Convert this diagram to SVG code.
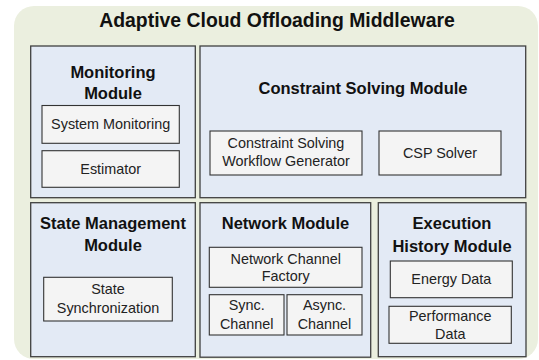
<svg xmlns="http://www.w3.org/2000/svg" width="539" height="360" viewBox="0 0 539 360">
<style>
text{font-family:"Liberation Sans",Arial,sans-serif;fill:#111;text-anchor:middle}
.t{font-size:19.4px;font-weight:bold}
.h{font-size:16.5px;font-weight:bold}
.l{font-size:14.4px;fill:#222}
.mod{fill:#E3EAF5;stroke:#404040;stroke-width:1.3}
.box{fill:#F4F4F4;stroke:#333;stroke-width:1.1}
</style>
<rect x="0" y="0" width="539" height="360" fill="#ffffff"/>
<g id="middleware">
<rect x="14" y="6" width="524" height="353" rx="20" ry="20" fill="#EBEFDF"/>
<text class="t" x="277" y="27">Adaptive Cloud Offloading Middleware</text>
</g>
<g id="monitoring-module">
<rect class="mod" x="30.7" y="46" width="164.6" height="151.7"/>
<text class="h" x="113" y="78">Monitoring</text>
<text class="h" x="113" y="99">Module</text>
</g>
<g id="system-monitoring">
<rect class="box" x="42" y="105.5" width="137.3" height="37.8"/>
<text class="l" x="110.7" y="129">System Monitoring</text>
</g>
<g id="estimator">
<rect class="box" x="42" y="150.7" width="137.3" height="36.6"/>
<text class="l" x="110.7" y="174">Estimator</text>
</g>
<g id="constraint-solving-module">
<rect class="mod" x="200" y="46" width="325.7" height="151.7"/>
<text class="h" x="363" y="94">Constraint Solving Module</text>
</g>
<g id="workflow-generator">
<rect class="box" x="210" y="131" width="152" height="44"/>
<text class="l" x="286" y="147.5">Constraint Solving</text>
<text class="l" x="286" y="166">Workflow Generator</text>
</g>
<g id="csp-solver">
<rect class="box" x="379" y="131" width="122" height="44"/>
<text class="l" x="440" y="158">CSP Solver</text>
</g>
<g id="state-management-module">
<rect class="mod" x="30.7" y="202.7" width="164.6" height="154"/>
<text class="h" x="113" y="229">State Management</text>
<text class="h" x="113" y="251">Module</text>
</g>
<g id="state-synchronization">
<rect class="box" x="43.7" y="277.3" width="128.6" height="43.7"/>
<text class="l" x="108" y="294">State</text>
<text class="l" x="108" y="313">Synchronization</text>
</g>
<g id="network-module">
<rect class="mod" x="200" y="202.7" width="170.7" height="154.5"/>
<text class="h" x="285.5" y="229">Network Module</text>
</g>
<g id="network-channel-factory">
<rect class="box" x="209.3" y="247.3" width="152.7" height="40"/>
<text class="l" x="285.7" y="263.5">Network Channel</text>
<text class="l" x="285.7" y="281">Factory</text>
</g>
<g id="sync-channel">
<rect class="box" x="209.3" y="294.7" width="74.7" height="40.3"/>
<text class="l" x="246.7" y="310">Sync.</text>
<text class="l" x="246.7" y="329">Channel</text>
</g>
<g id="async-channel">
<rect class="box" x="287" y="294.7" width="75" height="40.3"/>
<text class="l" x="324.5" y="310">Async.</text>
<text class="l" x="324.5" y="329">Channel</text>
</g>
<g id="execution-history-module">
<rect class="mod" x="378.3" y="202.7" width="147.7" height="154"/>
<text class="h" x="452" y="229">Execution</text>
<text class="h" x="452" y="251.5">History Module</text>
</g>
<g id="energy-data">
<rect class="box" x="390.3" y="261" width="122" height="36.7"/>
<text class="l" x="451.3" y="284">Energy Data</text>
</g>
<g id="performance-data">
<rect class="box" x="389" y="306.3" width="122.3" height="37"/>
<text class="l" x="450.2" y="320.5">Performance</text>
<text class="l" x="450.2" y="338.5">Data</text>
</g>
<g id="connectors"/>
</svg>
